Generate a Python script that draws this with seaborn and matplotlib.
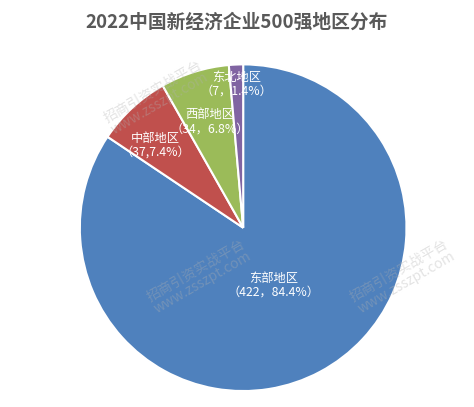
import matplotlib
matplotlib.use("Agg")
import matplotlib.pyplot as plt
import seaborn as sns
import numpy as np

regions = ['东部地区', '中部地区', '西部地区', '东北地区']
counts = [422, 37, 34, 7]
shares = ['84.4%', '7.4%', '6.8%', '1.4%']
seps = ['，', ',', '，', '，']
colors = ['#4F81BD', '#C0504D', '#9BBB59', '#8064A2']
label_r = [0.40, 0.74, 0.68, 0.88]
label_turn = [0, 4, 0, 0]  # degrees nudged from wedge middle

sns.set_style("white")
plt.rcParams['font.family'] = ['Noto Sans CJK SC', 'DejaVu Sans']

fig = plt.figure(figsize=(4.74, 4.07), dpi=100)
fig.text(0.5, 0.945, '2022中国新经济企业500强地区分布', ha='center', va='center',
         fontsize=13.5, fontweight='bold', color='#595959')

ax = fig.add_axes([0.165, 0.035, 0.696, 0.811])
wedges, _ = ax.pie(counts, colors=colors, startangle=90, counterclock=False,
                   wedgeprops=dict(edgecolor='white', linewidth=1.5))
ax.set_xlim(-1.01, 1.01)
ax.set_ylim(-1.01, 1.01)
ax.set_aspect('equal')

for w, name, c, s, sep, r, t in zip(wedges, regions, counts, shares, seps, label_r, label_turn):
    mid = np.deg2rad((w.theta1 + w.theta2) / 2 + t)
    ax.text(r * np.cos(mid), r * np.sin(mid), f'{name}\n（{c}{sep}{s}）',
            ha='center', va='center', fontsize=8.8, color='white', linespacing=1.1)

# watermark
for x, y in [(0.33, 0.76), (0.42, 0.32), (0.85, 0.32)]:
    fig.text(x, y, '招商引资实战平台\nwww.zsszpt.com', ha='center', va='center',
             rotation=30, fontsize=10, color='#b0b0b0', alpha=0.35, linespacing=1.0)

fig.savefig('out.png', dpi=100)
